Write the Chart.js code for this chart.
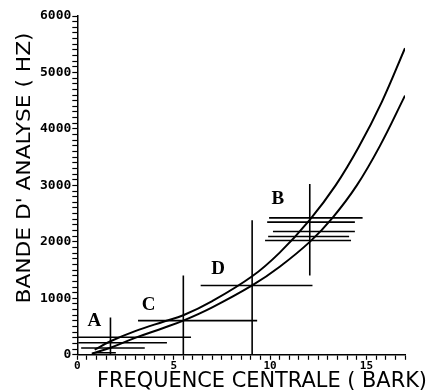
<!DOCTYPE html>
<html>
<head>
<meta charset="utf-8">
<script src="https://cdn.jsdelivr.net/npm/chart.js@4"></script>
<style>
  html, body { margin: 0; padding: 0; background: #fff; }
  #wrap { width: 429px; height: 392px; }
</style>
</head>
<body>
<div id="wrap"><canvas id="bandChart" width="429" height="392"></canvas></div>
<script>
// courbes
const upperBark = [0.9, 1.72, 3, 4.5, 5.5, 7, 9.07, 10.5, 12.06, 13.4, 14.6, 15.8, 17];
const upperHz   = [90, 240, 420, 590, 700, 950, 1390, 1810, 2390, 3000, 3680, 4480, 5430];
const lowerBark = [0.75, 1.72, 3, 4.5, 5.5, 7, 9.07, 10.5, 12.06, 13.25, 14.5, 15.7, 17];
const lowerHz   = [20, 125, 300, 480, 605, 840, 1228, 1560, 2000, 2430, 3000, 3700, 4590];

// segments horizontaux: frequence, debut et fin en bark
const hSegHz   = [310, 213, 120, 35, 605, 1228, 2425, 2349, 2183, 2094, 2023];
const hSegFrom = [0, 0.05, 0.2, 0.8, 3.15, 6.4, 9.95, 9.85, 10.15, 9.9, 9.74];
const hSegTo   = [5.9, 4.65, 3.5, 2.0, 9.33, 12.2, 14.8, 14.4, 14.4, 14.1, 14.2];

// segments verticaux: bark, bas et haut en Hz
const vSegBark = [1.72, 5.5, 9.07, 12.06];
const vSegFrom = [0, 0, 0, 1405];
const vSegTo   = [660, 1405, 2384, 3025];

// lettres des bandes
const bandLetters = ['A', 'C', 'D', 'B'];
const letterBark  = [0.88, 3.7, 7.3, 10.4];
const letterHz    = [605, 872, 1512, 2758];

const X_TITLE = 'FREQUENCE CENTRALE ( BARK)';
const Y_TITLE = "BANDE D' ANALYSE ( HZ)";

function pts(xs, ys) {
    return xs.map((x, i) => ({ x: x, y: ys[i] }));
}

const datasets = [];
datasets.push({
    data: pts(upperBark, upperHz),
    borderColor: '#000', borderWidth: 2, pointRadius: 0,
    showLine: true, tension: 0.4
});
datasets.push({
    data: pts(lowerBark, lowerHz),
    borderColor: '#000', borderWidth: 2, pointRadius: 0,
    showLine: true, tension: 0.4
});
hSegHz.forEach((hz, i) => {
    datasets.push({
        data: [{ x: hSegFrom[i], y: hz }, { x: hSegTo[i], y: hz }],
        borderColor: '#000', borderWidth: 1.6, pointRadius: 0, showLine: true
    });
});
vSegBark.forEach((b, i) => {
    datasets.push({
        data: [{ x: b, y: vSegFrom[i] }, { x: b, y: vSegTo[i] }],
        borderColor: '#000', borderWidth: 1.6, pointRadius: 0, showLine: true
    });
});

// titres des axes et lettres
const textPlugin = {
    id: 'textPlugin',
    afterDraw(chart) {
        const ctx = chart.ctx;
        const xs = chart.scales.x, ys = chart.scales.y;
        ctx.save();
        ctx.fillStyle = '#000';
        ctx.textAlign = 'center';
        ctx.textBaseline = 'middle';

        ctx.font = 'bold 19px "Liberation Serif"';
        bandLetters.forEach((t, i) => {
            ctx.fillText(t, xs.getPixelForValue(letterBark[i]), ys.getPixelForValue(letterHz[i]));
        });

        // titre x, un peu etroit comme l'original
        ctx.font = '22px "DejaVu Sans"';
        let w = ctx.measureText(X_TITLE).width;
        ctx.save();
        ctx.translate(262, 381);
        ctx.scale(330 / w, 1);
        ctx.fillText(X_TITLE, 0, 0);
        ctx.restore();

        ctx.font = '20px "DejaVu Sans"';
        w = ctx.measureText(Y_TITLE).width;
        ctx.save();
        ctx.translate(25, 168);
        ctx.rotate(-Math.PI / 2);
        ctx.scale(271 / w, 1);
        ctx.fillText(Y_TITLE, 0, 0);
        ctx.restore();

        ctx.restore();
    }
};

const ctx = document.getElementById('bandChart').getContext('2d');
new Chart(ctx, {
    type: 'scatter',
    data: { datasets: datasets },
    options: {
        responsive: false,
        animation: false,
        layout: { padding: { left: 39, right: 24, top: 16, bottom: 19 } },
        plugins: { legend: { display: false }, tooltip: { enabled: false } },
        scales: {
            x: {
                type: 'linear', min: 0, max: 17,
                border: { display: true, color: '#000', width: 1.5 },
                grid: { drawOnChartArea: false, drawTicks: true, tickLength: 5, tickColor: '#000', tickWidth: 1.2 },
                ticks: {
                    stepSize: 0.5, autoSkip: false, maxRotation: 0, padding: 0,
                    color: '#000', font: { family: '"DejaVu Sans Mono"', weight: 'bold', size: 11 },
                    callback: (v) => (v % 5 === 0 ? v : '')
                }
            },
            y: {
                type: 'linear', min: 0, max: 6000,
                border: { display: true, color: '#000', width: 1.5 },
                grid: { drawOnChartArea: false, drawTicks: true, tickLength: 5, tickColor: '#000', tickWidth: 1.2 },
                ticks: {
                    stepSize: 100, autoSkip: false, padding: 1,
                    color: '#000', font: { family: '"DejaVu Sans Mono"', weight: 'bold', size: 13 },
                    callback: (v) => (v % 1000 === 0 ? v : '')
                }
            }
        }
    },
    plugins: [textPlugin]
});
</script>
</body>
</html>
